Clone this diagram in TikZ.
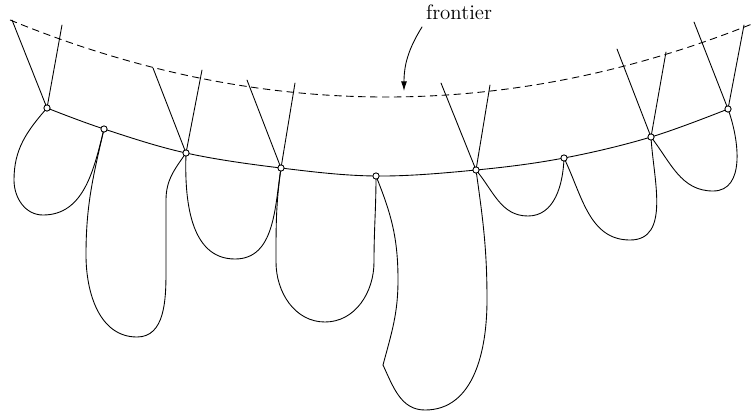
\documentclass[tikz,border=0pt]{standalone}
\usetikzlibrary{arrows.meta}
\begin{document}
\begin{tikzpicture}[x=0.02cm,y=-0.02cm,
  wire/.style={line width=0.5pt, line join=round, line cap=round},
  frontline/.style={line width=0.5pt, dash pattern=on 4.2pt off 2.6pt},
  knot/.style={circle, draw, fill=white, line width=0.5pt, inner sep=0pt, minimum size=0.125cm},
  label/.style={font=\fontsize{11.9}{14}\selectfont, inner sep=0pt}]

\useasboundingbox (0,0) rectangle (754,417);

% points on the chain
\coordinate (p1) at (47,108);
\coordinate (p2) at (104,129);
\coordinate (p3) at (186,153);
\coordinate (p4) at (281,168);
\coordinate (p5) at (376,176);
\coordinate (p6) at (476,170);
\coordinate (p7) at (564,158);
\coordinate (p8) at (651,137);
\coordinate (p9) at (728,109);

% free ends of the crossing strands
\coordinate (a1) at (12,20);   \coordinate (b1) at (62,25);
\coordinate (a3) at (153,68);  \coordinate (b3) at (202,70);
\coordinate (a4) at (247,80);  \coordinate (b4) at (295,83);
\coordinate (a6) at (441,83);  \coordinate (b6) at (490,85);
\coordinate (a8) at (617,49);  \coordinate (b8) at (666,52);
\coordinate (a9) at (694,22);  \coordinate (b9) at (744,25);

% frontier curve
\draw[frontline] plot[domain=10:752, samples=90, smooth] (\x, {97 - 5.45*((\x-386)/100)^2});

% chain through the points
\draw[wire] plot[smooth, tension=0.6] coordinates {(p1) (p2) (p3) (p4) (p5) (p6) (p7) (p8) (p9)};

% strands above the chain
\foreach \i in {1,3,4,6,8,9} {
  \draw[wire] (a\i) -- (p\i);
  \draw[wire] (b\i) -- (p\i);
}

% loops below the chain
\draw[wire] (p1) to[out=229,in=90] (14,180) to[out=270,in=180] (43,215)
  to[out=0,in=256] (p2);
\draw[wire] (p2) to[out=257,in=90] (86,255) to[out=270,in=180] (137,337)
  to[out=0,in=270] (166,272) to[out=90,in=270] (166,200) to[out=90,in=235] (p3);
\draw[wire] (p3) to[out=268,in=180] (235,259) to[out=0,in=261] (p4);
\draw[wire] (p4) to[out=262,in=90] (276,262) to[out=270,in=180] (325,322)
  to[out=0,in=270] (374,262) to[out=90,in=270] (p5);
\coordinate (kE) at (383,365);
\draw[wire] (p5) to[out=292,in=90] (398,280) to[out=270,in=75] (kE);
\draw[wire] (kE) to[out=295,in=180] (425,410) to[out=0,in=270] (487,300)
  to[out=90,in=278] (p6);
\draw[wire] (p6) to[out=310,in=180] (528,216) to[out=0,in=268] (p7);
\draw[wire] (p7) to[out=296,in=180] (630,240) to[out=0,in=273] (p8);
\draw[wire] (p8) to[out=308,in=180] (713,191) to[out=0,in=290] (p9);

% knots
\foreach \i in {1,...,9} {
  \node[knot] (k\i) at (p\i) {};
}

% frontier label and pointer
\node[label] (lbl) at (459,12) {frontier};
\coordinate (arrtail) at (422,27);
\coordinate (arrtip) at (404,91);
\draw[wire, -{Latex[length=5.5pt,width=3.4pt]}] (arrtail) to[out=238,in=90] (arrtip);

\end{tikzpicture}
\end{document}
